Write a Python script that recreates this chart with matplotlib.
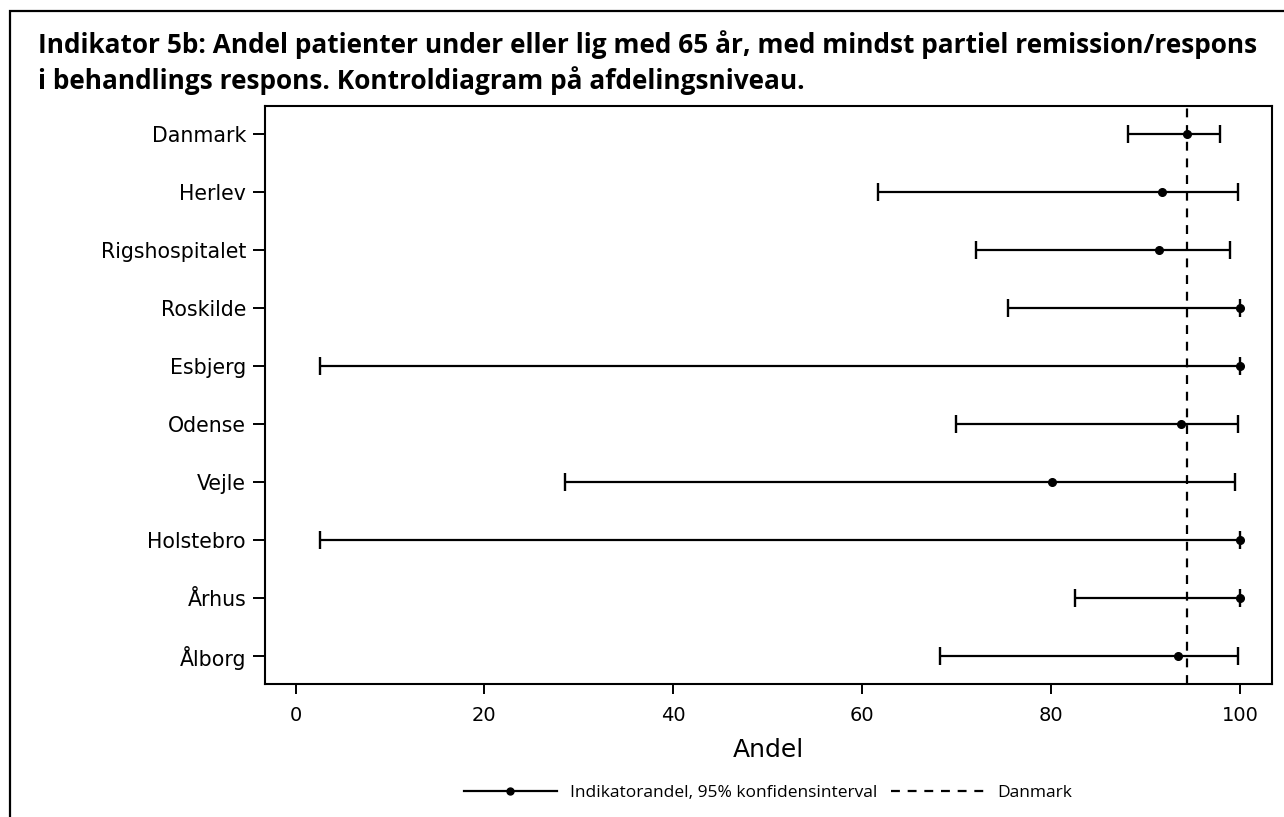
import matplotlib
matplotlib.use("Agg")
import matplotlib.pyplot as plt
from matplotlib.lines import Line2D
from matplotlib.patches import Rectangle

# Departments (top to bottom) with indicator share and 95% confidence limits
departments = ["Danmark", "Herlev", "Rigshospitalet", "Roskilde", "Esbjerg",
               "Odense", "Vejle", "Holstebro", "Århus", "Ålborg"]
andel = [94.4, 91.8, 91.4, 100.0, 100.0, 93.8, 80.1, 100.0, 100.0, 93.4]
lower = [88.1, 61.7, 72.1, 75.4, 2.6, 69.9, 28.5, 2.6, 82.5, 68.2]
upper = [97.9, 99.8, 99.0, 100.0, 100.0, 99.8, 99.5, 100.0, 100.0, 99.8]
danmark_ref = 94.4
x_ticks = [0, 20, 40, 60, 80, 100]

title = ("Indikator 5b: Andel patienter under eller lig med 65 år, med mindst partiel remission/respons\n"
         "i behandlings respons. Kontroldiagram på afdelingsniveau.")

W, H = 1284, 817
fig = plt.figure(figsize=(W / 100, H / 100), dpi=100)
fig.patch.set_facecolor("white")

# Outer frame
fig.patches.append(Rectangle((10 / W, -0.05), 1.2, 1 - 11 / H + 0.05,
                             transform=fig.transFigure, fill=False,
                             edgecolor="black", linewidth=1.6, zorder=0))

fig.text(38 / W, 1 - 30 / H, title, ha="left", va="top",
         fontsize=18.9, fontweight="bold", family="Open Sans",
         linespacing=1.32)

ax = fig.add_axes([265 / W, 1 - 684 / H, (1272 - 265) / W, (684 - 106) / H])

ypos = list(range(len(departments)))
xerr = [[a - l for a, l in zip(andel, lower)], [u - a for a, u in zip(andel, upper)]]
ax.errorbar(andel, ypos, xerr=xerr, fmt="o", color="black", ms=5.5,
            elinewidth=1.6, capsize=6.8, capthick=1.7, zorder=3)
ax.axvline(danmark_ref, color="black", linestyle=(0, (4, 3.5)), linewidth=1.6, zorder=2)

ax.set_ylim(len(departments) - 0.52, -0.48)
ax.set_xlim(-3.23, 103.4)
ax.set_yticks(ypos)
ax.set_yticklabels(departments, fontsize=14.8)
ax.set_xticks(x_ticks)
ax.set_xticklabels([str(t) for t in x_ticks], fontsize=14)
ax.tick_params(axis="y", length=8.6, width=1.4, pad=5)
ax.tick_params(axis="x", length=7.5, width=1.4, pad=8)
for s in ax.spines.values():
    s.set_linewidth(1.5)
ax.set_xlabel("Andel", fontsize=18, labelpad=10)

handles = [
    Line2D([], [], color="black", linewidth=1.6, marker="o", markersize=5),
    Line2D([], [], color="black", linewidth=1.6, linestyle=(0, (4, 3.5))),
]
fig.legend(handles, ["Indikatorandel, 95% konfidensinterval", "Danmark"],
           loc="center", bbox_to_anchor=(768 / W, 1 - 793 / H), ncol=2,
           frameon=False, prop={"family": "Open Sans", "size": 12.5},
           handlelength=5.4, handletextpad=0.75, columnspacing=0.75, numpoints=1)

fig.savefig("out.png", dpi=100)
